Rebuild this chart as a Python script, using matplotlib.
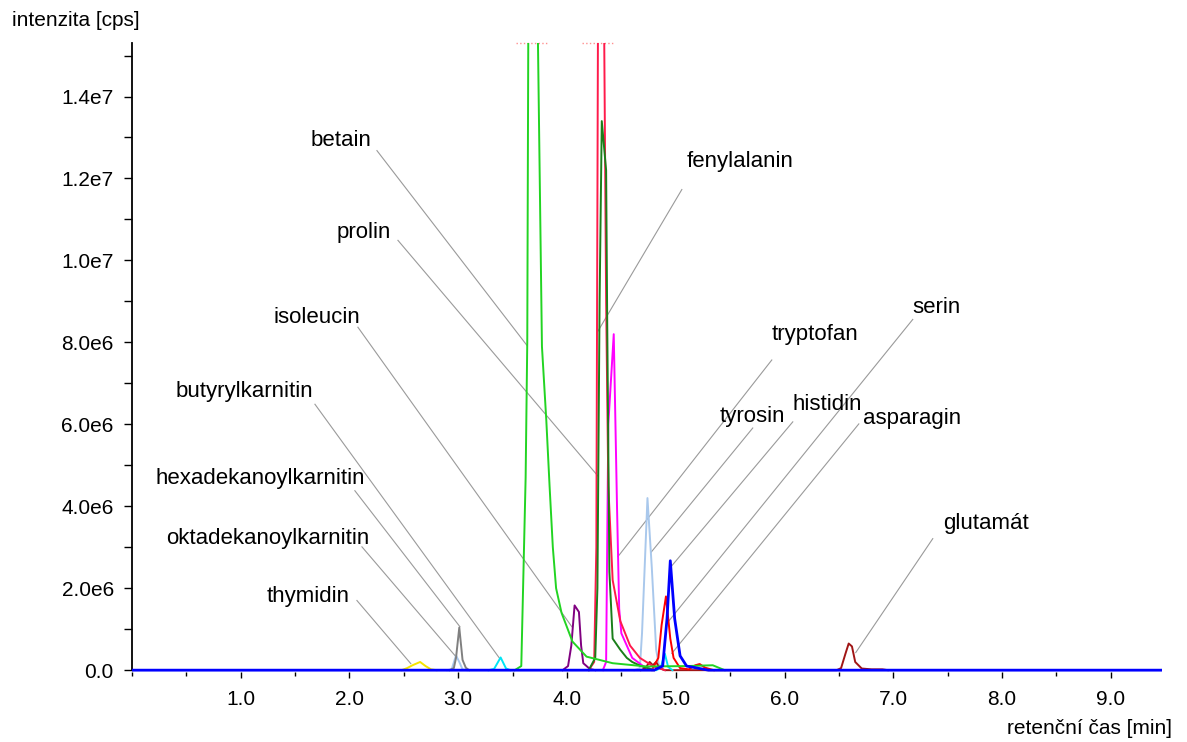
import numpy as np
import matplotlib
matplotlib.use('Agg')
import matplotlib.pyplot as plt
from matplotlib.ticker import MultipleLocator, FixedLocator, FixedFormatter

plt.rcParams['font.family'] = ['Liberation Sans', 'DejaVu Sans']

# retention time [min] and intensity [1e6 cps]
t_thymidin = [2.48, 2.53, 2.58, 2.65, 2.70, 2.75, 2.80]
i_thymidin = [0.0, 0.05, 0.12, 0.20, 0.10, 0.02, 0.0]

t_oktadek = [2.90, 2.94, 2.98, 3.01, 3.04, 3.08]
i_oktadek = [0.0, 0.02, 0.36, 0.20, 0.02, 0.0]

t_hexadek = [2.92, 2.96, 2.98, 3.01, 3.04, 3.07, 3.10]
i_hexadek = [0.0, 0.05, 0.30, 1.04, 0.25, 0.06, 0.0]

t_butyryl = [3.28, 3.33, 3.39, 3.44, 3.48]
i_butyryl = [0.0, 0.03, 0.31, 0.04, 0.0]

t_betain = [3.52, 3.58, 3.62, 3.635, 3.645, 3.68, 3.72, 3.77, 3.81, 3.84, 3.87,
            3.90, 3.95, 4.05, 4.18, 4.42, 4.73, 5.10, 5.34, 5.45]
i_betain = [0.0, 0.1, 4.7, 8.0, 16.0, 40.0, 18.0, 7.9, 6.1, 4.5, 3.0,
            2.0, 1.4, 0.7, 0.33, 0.17, 0.09, 0.10, 0.12, 0.0]

t_isoleucin = [3.96, 4.01, 4.04, 4.07, 4.11, 4.13, 4.15, 4.21, 4.26]
i_isoleucin = [0.0, 0.1, 0.6, 1.58, 1.42, 0.6, 0.17, 0.03, 0.0]

t_prolin = [4.20, 4.25, 4.27, 4.29, 4.31, 4.33, 4.36, 4.38, 4.42, 4.49, 4.58,
            4.67, 4.79, 4.90]
i_prolin = [0.0, 0.2, 3.0, 20.0, 35.0, 20.0, 9.0, 4.5, 2.2, 1.2, 0.6,
            0.3, 0.1, 0.0]

t_fenylalanin = [4.20, 4.26, 4.28, 4.30, 4.32, 4.36, 4.37, 4.39, 4.42, 4.49,
                 4.55, 4.60, 4.68, 4.80]
i_fenylalanin = [0.0, 0.3, 2.0, 9.0, 13.4, 12.2, 8.5, 2.4, 0.77, 0.5,
                 0.3, 0.2, 0.1, 0.0]

t_tryptofan = [4.33, 4.36, 4.38, 4.43, 4.46, 4.48, 4.50, 4.60, 4.70, 4.80]
i_tryptofan = [0.0, 0.2, 6.0, 8.2, 4.0, 1.5, 0.9, 0.3, 0.1, 0.0]

t_tyrosin = [4.62, 4.67, 4.69, 4.74, 4.78, 4.82, 4.85, 4.90]
i_tyrosin = [0.0, 0.05, 0.9, 4.2, 2.5, 0.5, 0.05, 0.0]

t_glutamat = [4.68, 4.72, 4.76, 4.79, 4.82, 4.85, 4.90,
              6.48, 6.52, 6.56, 6.59, 6.62, 6.65, 6.71, 6.80, 6.90, 6.95]
i_glutamat = [0.0, 0.05, 0.20, 0.12, 0.20, 0.05, 0.0,
              0.0, 0.05, 0.40, 0.65, 0.58, 0.20, 0.04, 0.02, 0.02, 0.0]

t_asparagin = [4.82, 4.86, 4.90, 4.93, 4.97]
i_asparagin = [0.0, 0.05, 0.40, 0.08, 0.0]

t_serin = [4.78, 4.84, 4.87, 4.91, 4.95, 4.98, 5.04, 5.12, 5.18, 5.22, 5.27, 5.35]
i_serin = [0.0, 0.3, 1.1, 1.8, 0.77, 0.3, 0.05, 0.02, 0.12, 0.15, 0.06, 0.0]

t_histidin = [0.0, 4.80, 4.88, 4.92, 4.95, 4.99, 5.04, 5.10, 5.20, 5.30, 9.47]
i_histidin = [0.0, 0.0, 0.1, 1.26, 2.67, 1.26, 0.35, 0.1, 0.05, 0.0, 0.0]

series = [
    (t_thymidin, i_thymidin, '#f5e400'),
    (t_oktadek, i_oktadek, '#a9c8ec'),
    (t_hexadek, i_hexadek, '#808080'),
    (t_butyryl, i_butyryl, '#00e5f5'),
    (t_isoleucin, i_isoleucin, '#800080'),
    (t_tyrosin, i_tyrosin, '#a9c8ec'),
    (t_glutamat, i_glutamat, '#a01515'),
    (t_serin, i_serin, '#ff0000'),
    (t_asparagin, i_asparagin, '#00e5f5'),
    (t_tryptofan, i_tryptofan, '#ff00ff'),
    (t_prolin, i_prolin, '#ff1a4b'),
    (t_fenylalanin, i_fenylalanin, '#1a7f1a'),
    (t_betain, i_betain, '#22d422'),
    (t_histidin, i_histidin, '#0000ff'),
]

# peak labels: name, text position, leader start, leader end (min, 1e6 cps)
lbl_left = ['betain', 'prolin', 'isoleucin', 'butyrylkarnitin',
            'hexadekanoylkarnitin', 'oktadekanoylkarnitin', 'thymidin']
lbl_left_pos = [(2.20, 12.92), (2.38, 10.68), (2.10, 8.61), (1.665, 6.79),
                (2.14, 4.67), (2.18, 3.21), (2.005, 1.79)]
lbl_left_from = [(2.253, 12.68), (2.446, 10.49), (2.078, 8.37), (1.683, 6.49),
                 (2.050, 4.38), (2.115, 3.01), (2.069, 1.70)]
lbl_left_to = [(3.631, 7.93), (4.284, 4.74), (4.045, 1.06), (3.383, 0.28),
               (3.016, 1.06), (2.979, 0.33), (2.564, 0.16)]

lbl_right = ['fenylalanin', 'tryptofan', 'tyrosin', 'histidin', 'serin',
             'asparagin', 'glutamát']
lbl_right_pos = [(5.10, 12.41), (5.883, 8.2), (5.405, 6.2), (6.076, 6.49),
                 (7.179, 8.85), (6.72, 6.13), (7.455, 3.57)]
lbl_right_from = [(5.056, 11.73), (5.883, 7.57), (5.708, 5.91), (6.076, 6.06),
                  (7.179, 8.56), (6.683, 6.01), (7.363, 3.21)]
lbl_right_to = [(4.284, 8.27), (4.468, 2.77), (4.771, 2.87), (4.955, 2.52),
                (4.918, 1.14), (4.964, 0.41), (6.655, 0.43)]

clip_marks = [(3.53, 3.82), (4.14, 4.43)]

xtick_vals = [1, 2, 3, 4, 5, 6, 7, 8, 9]
xtick_lbls = ['1.0', '2.0', '3.0', '4.0', '5.0', '6.0', '7.0', '8.0', '9.0']
ytick_vals = [0, 2e6, 4e6, 6e6, 8e6, 1e7, 1.2e7, 1.4e7]
ytick_lbls = ['0.0', '2.0e6', '4.0e6', '6.0e6', '8.0e6', '1.0e7', '1.2e7', '1.4e7']

XMAX = 9.47
YMAX = 15.3e6

fig = plt.figure(figsize=(11.87, 7.42), dpi=100)
ax = fig.add_axes([0.1111, 0.0946, 0.9789 - 0.1111, 0.9417 - 0.0946])

for (tx, iy, c) in series:
    lw = 2.0 if c == '#0000ff' else 1.4
    ax.plot(tx, np.array(iy) * 1e6, color=c, lw=lw, zorder=3)

for name, p, a, b in zip(lbl_left, lbl_left_pos, lbl_left_from, lbl_left_to):
    ax.plot([a[0], b[0]], [a[1] * 1e6, b[1] * 1e6], color='#9a9a9a', lw=0.8, zorder=2)
    ax.text(p[0], p[1] * 1e6, name, ha='right', va='center', fontsize=16)
for name, p, a, b in zip(lbl_right, lbl_right_pos, lbl_right_from, lbl_right_to):
    ax.plot([a[0], b[0]], [a[1] * 1e6, b[1] * 1e6], color='#9a9a9a', lw=0.8, zorder=2)
    ax.text(p[0], p[1] * 1e6, name, ha='left', va='center', fontsize=16)

for x0, x1 in clip_marks:
    ax.plot([x0, x1], [YMAX, YMAX], color='#ff9090', lw=1, ls=':', clip_on=False)

ax.set_xlim(0, XMAX)
ax.set_ylim(-0.04e6, YMAX)
ax.spines['top'].set_visible(False)
ax.spines['right'].set_visible(False)
ax.spines['bottom'].set_visible(False)
ax.spines['left'].set_linewidth(1.3)
ax.spines['left'].set_bounds(0, YMAX)

ax.xaxis.set_major_locator(FixedLocator(xtick_vals))
ax.xaxis.set_major_formatter(FixedFormatter(xtick_lbls))
ax.xaxis.set_minor_locator(MultipleLocator(0.5))
ax.yaxis.set_major_locator(FixedLocator(ytick_vals))
ax.yaxis.set_major_formatter(FixedFormatter(ytick_lbls))
ax.yaxis.set_minor_locator(MultipleLocator(1e6))
ax.tick_params(axis='x', which='major', length=4, width=1, pad=9, labelsize=15)
ax.tick_params(axis='x', which='minor', length=3, width=1)
ax.tick_params(axis='y', which='major', length=6, width=1, pad=7, labelsize=15)
ax.tick_params(axis='y', which='minor', length=6, width=1)

fig.text(12 / 1187, 1 - 20 / 742, 'intenzita [cps]', ha='left', va='center', fontsize=15)
fig.text(1172 / 1187, 1 - 728 / 742, 'retenční čas [min]', ha='right', va='center', fontsize=15)

plt.savefig('out.png', dpi=100)
plt.close()
